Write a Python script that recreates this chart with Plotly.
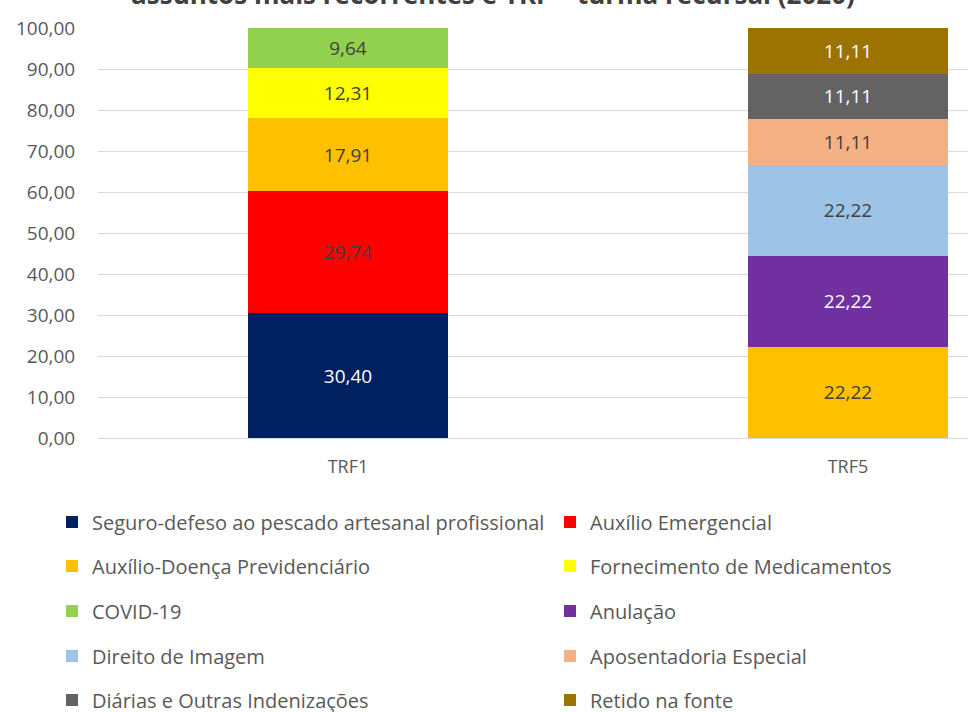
import plotly.graph_objects as go

categories = ["TRF1", "TRF5"]
series_names = [
    "Seguro-defeso ao pescado artesanal profissional",
    "Auxílio Emergencial",
    "Auxílio-Doença Previdenciário",
    "Fornecimento de Medicamentos",
    "COVID-19",
    "Anulação",
    "Direito de Imagem",
    "Aposentadoria Especial",
    "Diárias e Outras Indenizações",
    "Retido na fonte",
]
seguro_defeso = [30.40, None]
auxilio_emergencial = [29.74, None]
auxilio_doenca = [17.91, 22.22]
fornecimento_medicamentos = [12.31, None]
covid_19 = [9.64, None]
anulacao = [None, 22.22]
direito_imagem = [None, 22.22]
aposentadoria_especial = [None, 11.11]
diarias = [None, 11.11]
retido_fonte = [None, 11.11]
series_values = [seguro_defeso, auxilio_emergencial, auxilio_doenca,
                 fornecimento_medicamentos, covid_19, anulacao, direito_imagem,
                 aposentadoria_especial, diarias, retido_fonte]

colors = ["#002060", "#FF0000", "#FFC000", "#FFFF00", "#92D050",
          "#7030A0", "#9DC3E6", "#F4B183", "#636363", "#9C7300"]
label_colors = ["#FFFFFF", "#404040", "#404040", "#404040", "#404040",
                "#FFFFFF", "#404040", "#404040", "#FFFFFF", "#FFFFFF"]

y_ticks = [0, 10, 20, 30, 40, 50, 60, 70, 80, 90, 100]
title_text = "assuntos mais recorrentes e TRF – turma recursal (2020)"

FONT = "Open Sans"
GREY = "#595959"

fig = go.Figure()
legends = {}
row_y = [522, 566, 611, 656, 700]
col_x = [52, 550]
for i, (name, vals, col, lc) in enumerate(zip(series_names, series_values,
                                              colors, label_colors)):
    key = "legend" if i == 0 else f"legend{i+1}"
    fig.add_trace(go.Bar(
        x=categories, y=vals, name=name, marker_color=col,
        marker_line_width=0, width=0.4,
        texttemplate="%{y:.2f}", textposition="inside",
        insidetextanchor="middle", textangle=0,
        textfont=dict(family=FONT, size=19, color=lc),
        legend=key,
    ))
    legends[key] = dict(
        orientation="v", xref="container", yref="container",
        x=col_x[i % 2] / 968, y=1 - row_y[i // 2] / 712,
        xanchor="left", yanchor="middle",
        font=dict(family=FONT, size=20, color=GREY),
        bgcolor="rgba(0,0,0,0)", itemclick=False, itemdoubleclick=False,
    )

fig.update_layout(
    width=968, height=712,
    barmode="stack",
    separators=",.",
    plot_bgcolor="white", paper_bgcolor="white",
    margin=dict(l=98, r=0, t=28, b=274, autoexpand=False),
    font=dict(family=FONT, color=GREY),
    title=dict(text=title_text, x=493 / 968, xanchor="center",
               xref="container", yref="container", y=1 - 4 / 712,
               yanchor="bottom",
               font=dict(family=FONT, size=26, color="#404040", weight="bold")),
    xaxis=dict(range=[-0.5, 1.24], showgrid=False, showline=False,
               ticks="outside", ticklen=12, tickcolor="rgba(0,0,0,0)",
               tickfont=dict(family=FONT, size=18, color=GREY)),
    yaxis=dict(range=[0, 100], tickvals=y_ticks, tickformat=".2f",
               showgrid=True, gridcolor="#D9D9D9", gridwidth=1,
               zeroline=True, zerolinecolor="#D9D9D9", zerolinewidth=1,
               showline=False, ticks="outside", ticklen=18,
               tickcolor="rgba(0,0,0,0)",
               tickfont=dict(family=FONT, size=19, color=GREY)),
    showlegend=True,
    **legends,
)

fig.write_html("out.html",
               config={"displayModeBar": False},
               post_script="document.body.style.margin='0';"
                           "document.body.style.overflow='hidden';")
